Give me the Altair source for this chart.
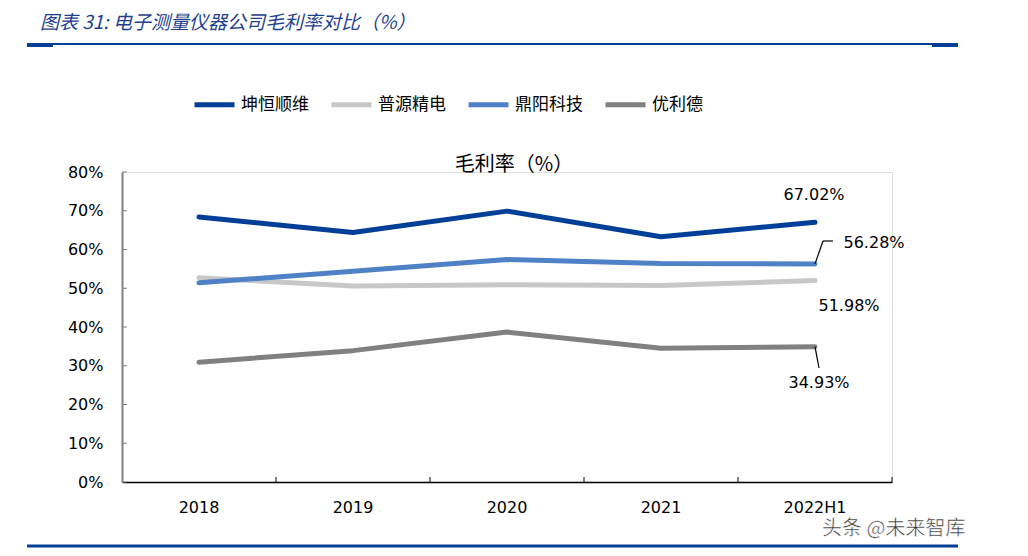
import altair as alt
import pandas as pd

years = ["2018", "2019", "2020", "2021", "2022H1"]
companies = ["坤恒顺维", "普源精电", "鼎阳科技", "优利德"]
kunheng = [68.4, 64.4, 69.9, 63.3, 67.02]
puyuan = [52.7, 50.6, 50.9, 50.7, 51.98]
dingyang = [51.4, 54.4, 57.4, 56.4, 56.28]
youlide = [30.9, 33.9, 38.7, 34.5, 34.93]
colors = ["#003f98", "#c8c8c8", "#4f81c7", "#808080"]
y_ticks = [0, 10, 20, 30, 40, 50, 60, 70, 80]

title_text = "图表 31:  电子测量仪器公司毛利率对比（%）"
chart_title = "毛利率（%）"
watermark = "头条 @未来智库"

rows = []
for name, vals in zip(companies, [kunheng, puyuan, dingyang, youlide]):
    for y, v in zip(years, vals):
        rows.append({"year": y, "company": name, "value": v})
df = pd.DataFrame(rows)
df["label"] = df["value"].map(lambda v: f"{v:.2f}%")

W, H = 770, 310
CN = "Noto Sans CJK SC"
NUM = "DejaVu Sans"

xaxis = alt.Axis(title=None, ticks=False, domainColor="#000000", domainWidth=1.5,
                 labelAngle=0, labelFont=NUM, labelFontSize=16, labelColor="#000000",
                 labelPadding=17, labelOverlap=False)
yaxis = alt.Axis(title=None, values=y_ticks, ticks=False, grid=False,
                 labelExpr="datum.value + '%'", domainColor="#808080", domainWidth=2,
                 labelFont=NUM, labelFontSize=16, labelColor="#000000",
                 labelPadding=19, labelOverlap=False, labelBound=False)
xscale = alt.Scale(domain=years, paddingInner=0, paddingOuter=0)
yscale = alt.Scale(domain=[0, 80])


def X(**kw):
    return alt.X("year:N", sort=years, scale=xscale, axis=xaxis, **kw)


def Y():
    return alt.Y("value:Q", scale=yscale, axis=yaxis)


base = alt.Chart(df)

lines = base.mark_line(strokeWidth=5, strokeCap="round", strokeJoin="round").encode(
    x=X(), y=Y(),
    color=alt.Color("company:N", sort=companies,
                    scale=alt.Scale(domain=companies, range=colors),
                    legend=alt.Legend(title=None, orient="none", direction="horizontal",
                                      columns=4, legendX=70, legendY=-90,
                                      symbolType="stroke", symbolSize=1600,
                                      symbolStrokeWidth=5, labelFont=CN, labelFontSize=17,
                                      labelColor="#000000", labelOffset=4,
                                      columnPadding=12, padding=0)),
    order=alt.Order("year:N"),
)

last = base.transform_filter(alt.datum.year == "2022H1")


def end_label(name, dx, dy):
    return last.transform_filter(alt.datum.company == name).mark_text(
        font=NUM, fontSize=16, color="#000000", dx=dx, dy=dy, align="center", baseline="middle"
    ).encode(x=X(), y=Y(), text="label:N")


labels = (end_label("坤恒顺维", -1, -27) + end_label("鼎阳科技", 59, -21)
          + end_label("普源精电", 34, 25) + end_label("优利德", 4, 36))

lead1 = last.transform_filter(alt.datum.company == "鼎阳科技").mark_rule(
    color="#000000", strokeWidth=1.2).encode(
    x=X(), y=Y(), x2=alt.value(701), y2=alt.value(69))
lead1b = last.transform_filter(alt.datum.company == "鼎阳科技").mark_rule(
    color="#000000", strokeWidth=1.2).encode(
    x=alt.value(701), x2=alt.value(711), y=alt.value(69))
lead2 = last.transform_filter(alt.datum.company == "优利德").mark_rule(
    color="#000000", strokeWidth=1.2).encode(
    x=X(), y=Y(), x2=alt.value(697), y2=alt.value(196))

ytick_df = pd.DataFrame({"value": y_ticks})
yticks = alt.Chart(ytick_df).mark_rule(color="#808080", strokeWidth=1).encode(
    y=Y(), x=alt.value(0), x2=alt.value(5))
xtick_df = pd.DataFrame({"year": years})
xticks = alt.Chart(xtick_df).mark_rule(color="#000000", strokeWidth=1).encode(
    x=X(bandPosition=1), y=alt.value(H - 5), y2=alt.value(H))

deco = alt.Chart(pd.DataFrame({"t": [title_text]}))
title = deco.mark_text(font=CN, fontSize=19, fontStyle="italic", color="#1f3f8f",
                       align="left", baseline="middle").encode(
    x=alt.value(-82), y=alt.value(-149), text="t:N")
topline = deco.mark_rule(color="#003f98", strokeWidth=2).encode(
    x=alt.value(-95), x2=alt.value(836), y=alt.value(-128))
topl_a = deco.mark_rule(color="#003f98", strokeWidth=4).encode(
    x=alt.value(-95), x2=alt.value(-69), y=alt.value(-127))
topl_b = deco.mark_rule(color="#003f98", strokeWidth=4).encode(
    x=alt.value(810), x2=alt.value(836), y=alt.value(-127))
botline = deco.mark_rule(color="#003f98", strokeWidth=3).encode(
    x=alt.value(-95), x2=alt.value(836), y=alt.value(374))
ctitle = alt.Chart(pd.DataFrame({"t": [chart_title]})).mark_text(
    font=CN, fontSize=20, color="#000000", align="center", baseline="middle").encode(
    x=alt.value(392), y=alt.value(-7), text="t:N")
wm = alt.Chart(pd.DataFrame({"t": [watermark]})).mark_text(
    font=CN, fontSize=20, color="#333333", stroke="#ffffff", strokeWidth=0.5,
    align="left", baseline="middle").encode(
    x=alt.value(700), y=alt.value(357), text="t:N")

chart = alt.layer(
    lines, yticks, xticks, labels, lead1, lead1b, lead2,
    title, topline, topl_a, topl_b, botline, ctitle, wm
).properties(
    width=W, height=H,
    autosize=alt.AutoSizeParams(type="none"),
    padding={"left": 114, "top": 164, "right": 128, "bottom": 66},
).configure_view(stroke=None).configure(background="#ffffff")

chart.save("out.html", embed_options={"renderer": "svg", "actions": False})
